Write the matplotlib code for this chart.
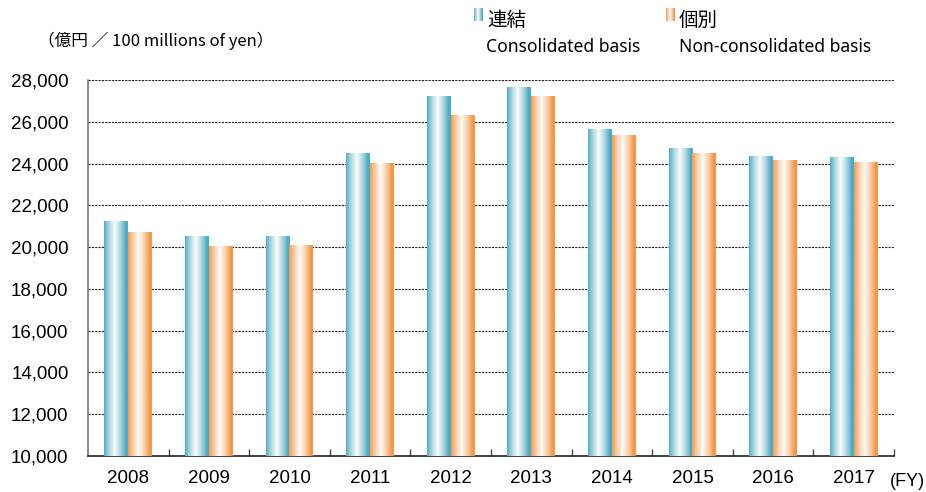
import matplotlib
matplotlib.use("Agg")
import matplotlib.pyplot as plt
import numpy as np
from matplotlib.ticker import FuncFormatter, FixedLocator

plt.rcParams['font.family'] = ['Liberation Sans', 'DejaVu Sans']

years = ["2008", "2009", "2010", "2011", "2012", "2013", "2014", "2015", "2016", "2017"]
consolidated = [21250, 20530, 20530, 24500, 27190, 27660, 25650, 24740, 24360, 24270]
non_consolidated = [20720, 20050, 20100, 24000, 26320, 27230, 25320, 24460, 24170, 24070]
y_ticks = [10000, 12000, 14000, 16000, 18000, 20000, 22000, 24000, 26000, 28000]

blue = np.array([75, 172, 198]) / 255
orange = np.array([247, 150, 70]) / 255
white = np.array([252, 251, 248]) / 255

fig = plt.figure(figsize=(9.26, 4.92), dpi=100)
ax = fig.add_axes([0.095, 0.0732, 0.8704, 0.7642])

x = np.arange(len(years))
w = 0.295
b1 = ax.bar(x - w / 2, np.array(consolidated) - 10000, width=w, bottom=10000, color='none', zorder=3)
b2 = ax.bar(x + w / 2, np.array(non_consolidated) - 10000, width=w, bottom=10000, color='none', zorder=3)

def gradient(edge):
    t = np.linspace(0, 1, 64)
    f = np.clip(1 - np.abs(t - 0.45) / 0.45, 0, 1) ** 0.8
    cols = edge[None, :] * (1 - f[:, None]) + white[None, :] * f[:, None]
    return cols[None, :, :]

for bars, col in ((b1, blue), (b2, orange)):
    g = gradient(col)
    for p in bars:
        x0, y0 = p.get_x(), p.get_y()
        ax.imshow(g, extent=[x0, x0 + p.get_width(), y0, y0 + p.get_height()],
                  aspect='auto', interpolation='bilinear', zorder=3)

ax.set_xlim(-0.5, len(years) - 0.5)
ax.set_ylim(10000, 28000)

for v in y_ticks[1:]:
    ax.axhline(v, color='#222222', lw=0.8, ls=(0, (2, 1)), zorder=1)

ax.yaxis.set_major_locator(FixedLocator(y_ticks))
ax.yaxis.set_major_formatter(FuncFormatter(lambda v, p: f"{int(v):,}"))
ax.tick_params(axis='y', length=0, pad=14, labelsize=13.5)
ax.set_xticks(x)
ax.set_xticklabels(years)
ax.tick_params(axis='x', length=0, pad=10, labelsize=13.5)
ax.set_xticks(np.arange(0.5, len(years), 1.0), minor=True)
ax.tick_params(axis='x', which='minor', direction='in', length=5, width=1, color='#444444')

for s in ('top', 'right'):
    ax.spines[s].set_visible(False)
ax.spines['left'].set_color('#777777')
ax.spines['left'].set_linewidth(1.2)
ax.spines['bottom'].set_color('#222222')
ax.spines['bottom'].set_linewidth(1.2)

jp = ['Noto Sans CJK JP', 'DejaVu Sans']
fig.text(38 / 926, 1 - 41 / 492, "（億円 ／ 100 millions of yen）", fontsize=12,
         family=jp, va='center', ha='left')

# legend
def swatch(px, py, col):
    axs = fig.add_axes([px / 926, 1 - (py + 7) / 492, 9 / 926, 13 / 492])
    axs.imshow(gradient(col), aspect='auto', interpolation='bilinear')
    axs.axis('off')

swatch(474, 14, blue)
swatch(666, 14, orange)
fig.text(487 / 926, 1 - 20 / 492, "連結", fontsize=14, family=jp, va='center', ha='left')
fig.text(486 / 926, 1 - 47 / 492, "Consolidated basis", fontsize=12.6, family=['Noto Sans', 'DejaVu Sans'], va='center', ha='left')
fig.text(679 / 926, 1 - 20 / 492, "個別", fontsize=14, family=jp, va='center', ha='left')
fig.text(679 / 926, 1 - 47 / 492, "Non-consolidated basis", fontsize=12.6, family=['Noto Sans', 'DejaVu Sans'], va='center', ha='left')
fig.text(890 / 926, 1 - 482 / 492, "(FY)", fontsize=13, family=['Liberation Sans', 'DejaVu Sans'], va='center', ha='left')

fig.savefig("out.png", dpi=100)
